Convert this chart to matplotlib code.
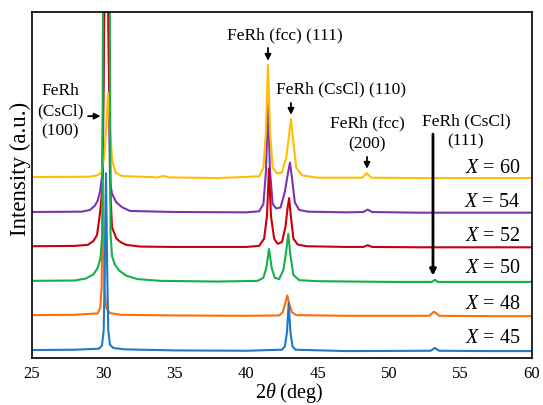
import matplotlib
matplotlib.use("Agg")
import matplotlib.pyplot as plt

plt.rcParams['font.family'] = ['Liberation Serif', 'DejaVu Serif']
plt.rcParams['mathtext.fontset'] = 'custom'
plt.rcParams['mathtext.rm'] = 'Liberation Serif'
plt.rcParams['mathtext.it'] = 'Liberation Serif:italic'

# compositions and their colours
samples = ['45', '48', '50', '52', '54', '60']
colors = ['#1f78c8', '#ff6d0a', '#14b04a', '#c8000a', '#7a35b0', '#ffbe00']
offsets = [0, 10, 20, 30, 40, 50]
base = 2.0

# XRD traces (2theta in deg, intensity above own baseline, a.u.)
x45 = [25, 28, 29.7, 29.9, 30.02, 30.1, 30.18, 30.26, 30.34, 30.46, 30.7, 31.5, 35, 40,
       42.5, 42.7, 42.85, 42.97, 43.09, 43.24, 43.45, 47, 52.9, 53.2, 53.5, 57, 60]
y45 = [0.3, 0.4, 0.7, 1.6, 6, 25, 51.4, 25, 6, 1.8, 0.9, 0.5, 0.2, 0.1,
       0.4, 1.3, 5.5, 13.9, 5.5, 1.3, 0.4, 0, 0.1, 0.9, 0.1, 0, 0]

x48 = [25, 28, 29.6, 29.78, 29.87, 29.93, 29.97, 30.01, 30.08, 30.2, 30.45, 31.2, 35, 40,
       42.3, 42.55, 42.73, 42.87, 43.0, 43.2, 43.5, 47, 52.8, 53.0, 53.14, 53.3, 53.5, 57, 60]
y48 = [0.4, 0.5, 0.9, 2.5, 8, 25, 39.3, 25, 8, 2.5, 1.0, 0.5, 0.3, 0.2,
       0.3, 1.2, 3.8, 6.1, 3.8, 1.2, 0.4, 0.2, 0.2, 0.9, 1.4, 0.9, 0.2, 0.1, 0.1]

x50 = [25, 28, 28.8, 29.3, 29.6, 29.8, 29.92, 29.97, 30.2, 30.45, 30.5, 30.6, 30.8, 31.1,
       31.6, 32.4, 34, 38, 40.8, 41.2, 41.4, 41.59, 41.78, 42.0, 42.3, 42.6, 42.8, 42.94,
       43.08, 43.3, 43.7, 45, 50, 53.0, 53.2, 53.4, 57, 60]
y50 = [0.3, 0.4, 1.0, 2.2, 4, 7, 14, 78, 160, 78, 14, 7.5, 5, 3.3,
       1.8, 0.8, 0.3, 0.1, 0.3, 1.2, 4, 9.5, 4, 1.2, 0.8, 3.5, 9, 13.9,
       8, 2, 0.5, 0.2, 0, 0, 0.6, 0, 0, 0]

x52 = [25, 28, 28.9, 29.3, 29.55, 29.76, 29.95, 30.06, 30.2, 30.34, 30.5, 30.6, 30.9, 31.2,
       31.6, 32.6, 35, 40, 40.9, 41.25, 41.45, 41.59, 41.73, 41.95, 42.2, 42.5, 42.75, 42.88,
       43.0, 43.12, 43.3, 43.6, 44.2, 47, 48.2, 48.5, 48.8, 52, 60]
y52 = [0.3, 0.4, 0.7, 1.8, 3.5, 9.8, 18, 70, 130, 70, 15, 5.8, 2.6, 1.5,
       0.7, 0.2, 0.1, 0.1, 0.4, 2.5, 9, 22.8, 9, 2.5, 1.0, 1.5, 6, 11,
       14.2, 9, 2.5, 0.8, 0.3, 0.1, 0.1, 0.6, 0.1, 0, 0]

x54 = [25, 28.5, 29.06, 29.4, 29.6, 29.76, 29.92, 30.06, 30.2, 30.34, 30.46, 30.6, 30.9, 31.3,
       31.86, 35, 40, 40.9, 41.2, 41.38, 41.52, 41.66, 41.85, 42.1, 42.4, 42.7, 42.9, 43.06,
       43.2, 43.4, 43.7, 44.3, 47, 48.2, 48.5, 48.8, 52, 60]
y54 = [0.2, 0.3, 0.8, 2, 3.5, 6, 11, 60, 120, 60, 9, 5.5, 3, 1.6,
       0.5, 0.2, 0.1, 0.4, 2.5, 12, 31.5, 12, 2.5, 1.2, 1.5, 6, 11, 14.5,
       10, 3, 0.8, 0.3, 0.1, 0.2, 0.9, 0.2, 0, 0]

x60 = [25, 29.0, 29.6, 29.85, 30.05, 30.18, 30.33, 30.48, 30.62, 30.85, 31.3, 33.8, 34.2,
       34.6, 38, 40.9, 41.2, 41.37, 41.52, 41.67, 41.85, 42.15, 42.5, 42.8, 42.98, 43.13,
       43.28, 43.5, 43.9, 45, 48.1, 48.43, 48.75, 52, 60]
y60 = [0.3, 0.4, 0.8, 1.6, 6, 14, 24.6, 13, 5, 1.6, 0.6, 0.2, 0.6,
       0.2, 0, 0.5, 3, 13, 32.7, 13, 3, 1.4, 1.6, 6, 12, 17.1,
       11, 3, 0.8, 0.1, 0.1, 1.4, 0.1, 0, 0]

xs = [x45, x48, x50, x52, x54, x60]
ys = [y45, y48, y50, y52, y54, y60]

# peak labels: text, text position, arrow start, arrow end
peak_labels = ['FeRh\n(CsCl)\n(100)', 'FeRh (fcc) (111)', 'FeRh (CsCl) (110)',
               'FeRh (fcc)\n(200)', 'FeRh (CsCl)\n(111)']
label_pos = [(26.96, 71.2), (42.71, 93.1), (46.66, 77.5), (48.45, 64.8), (55.38, 65.6)]
arrow_from = [(28.92, 69.9), (41.52, 89.6), (43.13, 73.7), (48.45, 58.1), (53.07, 64.7)]
arrow_to = [(29.8, 69.9), (41.52, 85.9), (43.13, 70.3), (48.45, 54.7), (53.07, 23.8)]

label_y = [5.5, 15.6, 26.0, 35.0, 44.8, 54.9]

fig = plt.figure(figsize=(5.43, 4.05), dpi=100)
ax = fig.add_axes([0.0589, 0.116, 0.9208, 0.8544])

order = [4, 3, 5, 1, 2, 0]
for i in order:
    yy = [v + offsets[i] + base for v in ys[i]]
    ax.plot(xs[i], yy, color=colors[i], lw=1.5, solid_joinstyle='round')

for i in range(len(samples)):
    ax.text(59.2, label_y[i], r'$X$ = ' + samples[i], ha='right', va='center', fontsize=14.5)

for txt, pos, a0, a1 in zip(peak_labels, label_pos, arrow_from, arrow_to):
    ax.text(pos[0], pos[1], txt, ha='center', va='center', fontsize=12.5, linespacing=1.35)
    lw = 2.0 if a0[1] - a1[1] > 10 else 1.3
    ax.annotate('', xy=a1, xytext=a0,
                arrowprops=dict(arrowstyle='-|>', color='black', lw=lw,
                                mutation_scale=9, shrinkA=0, shrinkB=0))

ax.set_xlim(25, 60)
ax.set_ylim(0, 100)
ax.set_xticks([25, 30, 35, 40, 45, 50, 55, 60])
ax.set_yticks([])
ax.tick_params(axis='x', length=0, pad=6, labelsize=12)
for s in ax.spines.values():
    s.set_linewidth(1.2)

ax.set_xlabel(r'2$\theta$ (deg)', fontsize=14.5)
ax.xaxis.label.set_va('bottom')
ax.xaxis.set_label_coords(0.514, -0.135)
ax.set_ylabel('Intensity (a.u.)', fontsize=16.5)
ax.yaxis.set_label_coords(-0.002, 0.546)

fig.savefig('out.png', dpi=100)
